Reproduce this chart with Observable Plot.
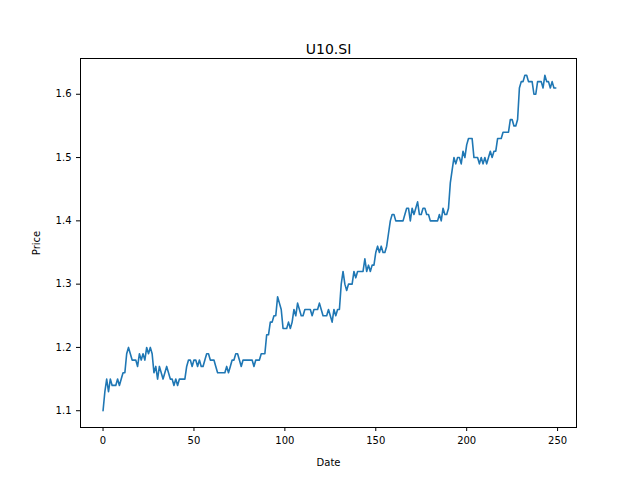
<!DOCTYPE html>
<html>
<head>
<meta charset="utf-8">
<script src="https://cdn.jsdelivr.net/npm/d3@7"></script>
<script src="https://cdn.jsdelivr.net/npm/@observablehq/plot@0.6"></script>
<style>
  body { margin: 0; background: #fff; }
  svg { font-family: "DejaVu Sans", sans-serif; }
</style>
</head>
<body>
<div id="chart"></div>
<script>
// closing prices, one row per 10 days
const prices = [
  1.10, 1.13, 1.15, 1.13, 1.15, 1.14, 1.14, 1.14, 1.15, 1.14,
  1.15, 1.16, 1.16, 1.19, 1.20, 1.19, 1.18, 1.18, 1.18, 1.17,
  1.19, 1.18, 1.19, 1.18, 1.20, 1.19, 1.20, 1.19, 1.16, 1.17,
  1.15, 1.17, 1.16, 1.15, 1.16, 1.17, 1.16, 1.15, 1.15, 1.14,
  1.15, 1.14, 1.15, 1.15, 1.15, 1.15, 1.17, 1.18, 1.18, 1.17,
  1.18, 1.18, 1.17, 1.18, 1.17, 1.17, 1.18, 1.19, 1.19, 1.18,
  1.18, 1.18, 1.17, 1.16, 1.16, 1.16, 1.16, 1.16, 1.17, 1.16,
  1.17, 1.18, 1.18, 1.19, 1.19, 1.18, 1.17, 1.18, 1.18, 1.18,
  1.18, 1.18, 1.18, 1.17, 1.18, 1.18, 1.18, 1.19, 1.19, 1.19,
  1.22, 1.22, 1.24, 1.24, 1.25, 1.25, 1.28, 1.27, 1.26, 1.23,
  1.23, 1.23, 1.24, 1.23, 1.24, 1.26, 1.25, 1.27, 1.26, 1.25,
  1.25, 1.26, 1.26, 1.26, 1.26, 1.25, 1.26, 1.26, 1.26, 1.27,
  1.26, 1.25, 1.25, 1.25, 1.26, 1.25, 1.24, 1.26, 1.25, 1.26,
  1.26, 1.30, 1.32, 1.30, 1.29, 1.30, 1.30, 1.30, 1.32, 1.31,
  1.32, 1.32, 1.32, 1.32, 1.34, 1.32, 1.33, 1.32, 1.33, 1.33,
  1.35, 1.36, 1.35, 1.36, 1.35, 1.35, 1.36, 1.38, 1.40, 1.41,
  1.41, 1.40, 1.40, 1.40, 1.40, 1.40, 1.41, 1.42, 1.42, 1.40,
  1.42, 1.41, 1.42, 1.43, 1.41, 1.41, 1.42, 1.42, 1.41, 1.41,
  1.40, 1.40, 1.40, 1.40, 1.40, 1.41, 1.40, 1.42, 1.41, 1.41,
  1.42, 1.46, 1.48, 1.50, 1.49, 1.50, 1.50, 1.49, 1.51, 1.50,
  1.52, 1.53, 1.53, 1.53, 1.50, 1.50, 1.50, 1.49, 1.50, 1.49,
  1.50, 1.49, 1.50, 1.51, 1.50, 1.51, 1.51, 1.53, 1.53, 1.53,
  1.54, 1.54, 1.54, 1.54, 1.56, 1.56, 1.55, 1.55, 1.56, 1.61,
  1.62, 1.62, 1.63, 1.63, 1.62, 1.62, 1.62, 1.60, 1.60, 1.62,
  1.62, 1.62, 1.61, 1.63, 1.62, 1.62, 1.61, 1.62, 1.61, 1.61
]
const xTicks = [0, 50, 100, 150, 200, 250]
const yTicks = [1.1, 1.2, 1.3, 1.4, 1.5, 1.6]

const data = prices.map((p, i) => ({date: i, price: p}))

let chart = Plot.plot({
  width: 640,
  height: 480,
  marginLeft: 80,
  marginRight: 64,
  marginTop: 58,
  marginBottom: 53,
  style: {fontSize: "10px", fontFamily: "DejaVu Sans, sans-serif", color: "#000"},
  x: {domain: [-12.4, 260.4], ticks: xTicks, tickSize: 4, label: "Date", labelAnchor: "center", labelArrow: "none", labelOffset: 38},
  y: {domain: [1.0735, 1.6565], ticks: yTicks, tickSize: 4, tickFormat: d3.format(".1f"), label: "Price", labelAnchor: "center", labelArrow: "none", labelOffset: 48},
  marks: [
    Plot.frame({stroke: "#000"}),
    Plot.line(data, {x: "date", y: "price", stroke: "#1f77b4", strokeWidth: 1.6}),
    Plot.text(["U10.SI"], {frameAnchor: "top", dy: -14, fontSize: 14, fill: "#000"})
  ]
})
d3.select('#chart').append(() => chart)
</script>
</body>
</html>
